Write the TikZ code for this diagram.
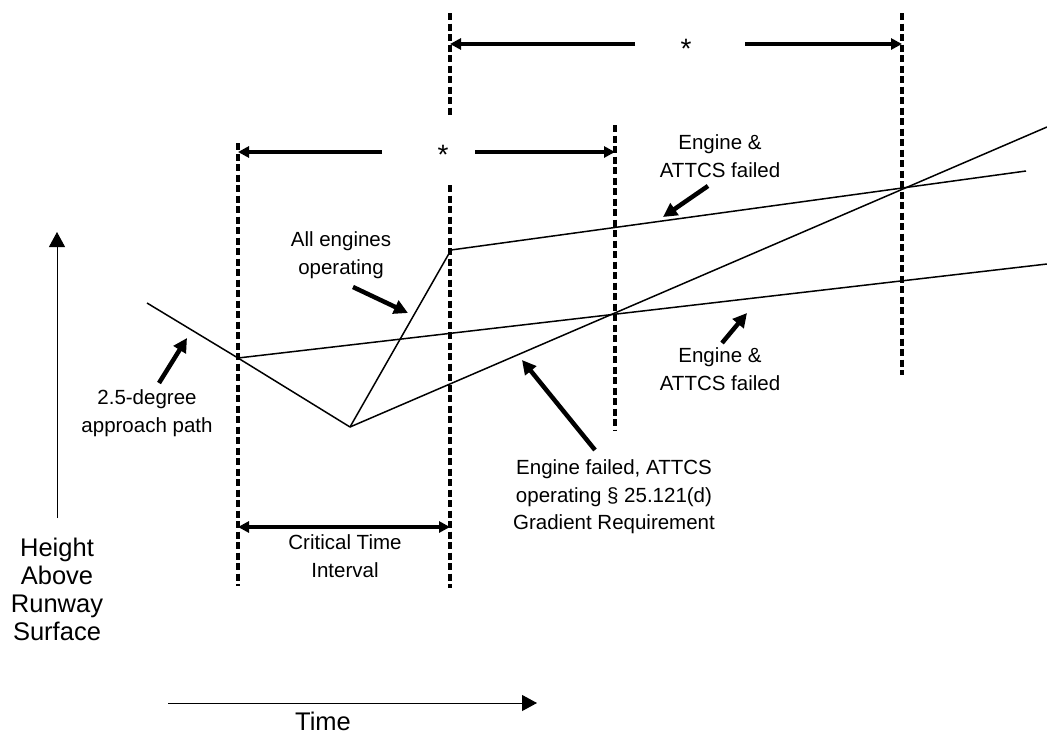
\documentclass[tikz,border=0pt]{standalone}
\usepackage{fontspec}
\setmainfont{Liberation Sans}
\usetikzlibrary{arrows.meta}
\begin{document}
\begin{tikzpicture}[
  x=1pt, y=-1pt,
  guide/.style={line width=3.5pt, dash pattern=on 7pt off 3.5pt},
  trace/.style={line width=1.5pt},
  pointer/.style={line width=4.5pt, -{Triangle[length=14pt,width=14pt]}},
  span/.style={line width=3.5pt, -{Triangle[length=11pt,width=11pt]}},
  twoway/.style={line width=3.5pt, {Triangle[length=11pt,width=11pt]}-{Triangle[length=11pt,width=11pt]}},
  axis/.style={line width=1pt, -{Triangle[length=15pt,width=16pt]}},
  note/.style={font=\fontsize{20.5}{27.5}\selectfont, align=center, inner sep=0pt},
  star/.style={font=\fontsize{28}{28}\selectfont, inner sep=0pt},
  axlabel/.style={font=\fontsize{25.5}{28}\selectfont, align=center, inner sep=0pt}
]
\useasboundingbox (0,0) rectangle (1047,734);

% dashed time marks
\coordinate (g1t) at (238,143); \coordinate (g1b) at (238,586);
\coordinate (g2t) at (450,185); \coordinate (g2b) at (450,588);
\coordinate (g3t) at (450,13);  \coordinate (g3b) at (450,117);
\coordinate (g4t) at (615,125); \coordinate (g4b) at (615,430);
\coordinate (g5t) at (902,13);  \coordinate (g5b) at (902,375);
\draw[guide] (g1t) -- (g1b);
\draw[guide] (g2t) -- (g2b);
\draw[guide] (g3t) -- (g3b);
\draw[guide] (g4t) -- (g4b);
\draw[guide] (g5t) -- (g5b);

% intervals
\node[star] (starTop) at (686,49) {*};
\node[star] (starMid) at (443,155) {*};
\coordinate (topL) at (450,44);  \coordinate (topLa) at (635,44);
\coordinate (topR) at (902,44);  \coordinate (topRa) at (745,44);
\coordinate (midL) at (238,152); \coordinate (midLa) at (382,152);
\coordinate (midR) at (615,152); \coordinate (midRa) at (475,152);
\draw[span] (topLa) -- (topL);
\draw[span] (topRa) -- (topR);
\draw[span] (midLa) -- (midL);
\draw[span] (midRa) -- (midR);
\coordinate (critL) at (238,527); \coordinate (critR) at (450,527);
\draw[twoway] (critL) -- (critR);
\node[note] (crit) at (345,556) {Critical Time\\Interval};

% flight paths
\coordinate (glide) at (147,303);
\coordinate (cross) at (238,358);
\coordinate (low) at (350,427);
\coordinate (climb) at (451,250);
\coordinate (upEnd) at (1026,171);
\coordinate (loEnd) at (1047,264);
\coordinate (grEnd) at (1047,127);
\draw[trace] (glide) -- (cross) -- (low);
\draw[trace] (cross) -- (loEnd);
\draw[trace] (low) -- (climb) -- (upEnd);
\draw[trace] (low) -- (grEnd);

% labels
\node[note] (allEng) at (341,255) {All engines\\operating};
\node[note] (approach) at (147,413) {2.5-degree\\approach path};
\node[note] (failUp) at (720,156) {Engine \&\\ATTCS failed};
\node[note] (failLo) at (720,369) {Engine \&\\ATTCS failed};
\node[note] (grad) at (614,497) {Engine failed, ATTCS\\operating § 25.121(d)\\Gradient Requirement};

\coordinate (aeTail) at (353,287); \coordinate (aeTip) at (408,313);
\coordinate (apTail) at (159,383); \coordinate (apTip) at (187,338);
\coordinate (fuTail) at (708,186); \coordinate (fuTip) at (663,217);
\coordinate (flTail) at (722,343); \coordinate (flTip) at (747,313);
\coordinate (grTail) at (595,450); \coordinate (grTip) at (522,360);
\draw[pointer] (aeTail) -- (aeTip);
\draw[pointer] (apTail) -- (apTip);
\draw[pointer] (fuTail) -- (fuTip);
\draw[pointer] (flTail) -- (flTip);
\draw[pointer] (grTail) -- (grTip);

% axes
\coordinate (yBot) at (57,518); \coordinate (yTop) at (57,232);
\coordinate (xBeg) at (168,703); \coordinate (xEnd) at (537,703);
\draw[axis] (yBot) -- (yTop);
\draw[axis] (xBeg) -- (xEnd);
\node[axlabel] (height) at (57,589) {Height\\Above\\Runway\\Surface};
\node[axlabel] (time) at (323,721) {Time};
\end{tikzpicture}
\end{document}
